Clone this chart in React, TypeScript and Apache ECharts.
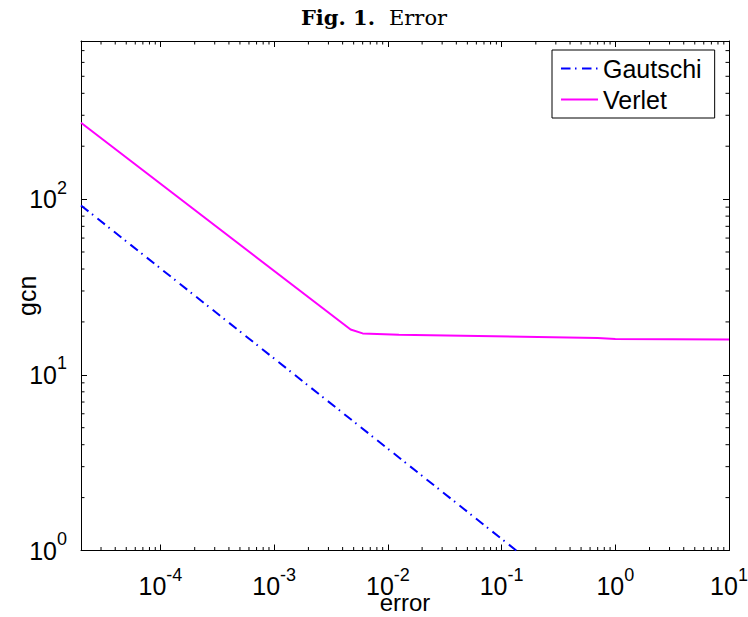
import React, { useEffect, useRef } from 'react';
import * as echarts from 'echarts';

// ---- data ----
const xRange = [2e-5, 10];
const yRange = [1, 794];
const xTickExponents = [-4, -3, -2, -1, 0, 1];
const yTickExponents = [0, 1, 2];
const seriesNames = ['Gautschi', 'Verlet'];
const gautschiError = [2e-5, 0.1346];
const gautschiGcn = [92, 1];
const verletError = [2e-5, 4.7e-3, 6.0e-3, 1.25e-2, 0.7, 1, 10];
const verletGcn = [272, 18.1, 17.2, 16.9, 16.2, 16.0, 15.9];
const titleBold = 'Fig. 1.';
const titleRegular = 'Error';
const xName = 'error';
const yName = 'gcn';

const SANS = '"Liberation Sans", Arial, Helvetica, sans-serif';
const SERIF = '"DejaVu Serif", "Liberation Serif", serif';

const expOf = (v: number): number | null => {
  const l = Math.log10(v);
  const e = Math.round(l);
  return Math.abs(l - e) < 1e-6 ? e : null;
};

const tickFormatter = (allowed: number[]) => (v: number) => {
  const e = expOf(v);
  if (e === null || allowed.indexOf(e) < 0) return '';
  return `{b|10}{e|${e < 0 ? '-' + Math.abs(e) : e}}`;
};

const richX = {
  b: { fontSize: 25, fontFamily: SANS, color: '#000', padding: [8, 0, 0, 0] },
  e: { fontSize: 18, fontFamily: SANS, color: '#000', verticalAlign: 'top' },
};
const richY = {
  b: { fontSize: 25, fontFamily: SANS, color: '#000', padding: [8, 0, 8, 0] },
  e: { fontSize: 18, fontFamily: SANS, color: '#000', verticalAlign: 'top' },
};

const axisLineStyle = { show: true, onZero: false, lineStyle: { color: '#000', width: 1 } };
const majorTick = { show: true, inside: true, length: 6, lineStyle: { color: '#000', width: 1 } };

export default function App() {
  const ref = useRef<HTMLDivElement>(null);
  useEffect(() => {
    if (!ref.current) return;
    const chart = echarts.init(ref.current, null, { renderer: 'svg' });
    const gautschi = gautschiError.map((x, i) => [x, gautschiGcn[i]]);
    const verlet = verletError.map((x, i) => [x, verletGcn[i]]);
    const option: any = {
      animation: false,
      backgroundColor: '#fff',
      title: {
        text: `{b|${titleBold}}{r|${titleRegular}}`,
        left: 'center',
        top: 7,
        padding: 0,
        textStyle: {
          rich: {
            b: { fontSize: 21, fontWeight: 'bold', fontFamily: SERIF, color: '#000', padding: [0, 14, 0, 0] },
            r: { fontSize: 21, fontWeight: 'normal', fontFamily: SERIF, color: '#000' },
          },
        },
      },
      grid: { left: 81, right: 19, top: 41, bottom: 66.5, containLabel: false, outerBoundsMode: 'none' },
      legend: {
        orient: 'vertical',
        left: 552,
        top: 50,
        padding: [6, 13, 6, 8],
        itemWidth: 37,
        itemHeight: 25,
        itemGap: 6,
        backgroundColor: '#fff',
        borderColor: '#000',
        borderWidth: 1,
        borderRadius: 0,
        itemStyle: { opacity: 0 },
        textStyle: { fontSize: 25, fontFamily: SANS, color: '#000', lineHeight: 25 },
        data: seriesNames,
      },
      xAxis: [
        {
          type: 'log', logBase: 10, min: xRange[0], max: xRange[1], position: 'bottom',
          name: xName, nameLocation: 'middle', nameGap: 42, nameMoveOverlap: false,
          nameTextStyle: { fontSize: 24, lineHeight: 20, fontFamily: SANS, color: '#000' },
          axisLine: axisLineStyle, axisTick: majorTick, splitLine: { show: false },
          axisLabel: { margin: 15, formatter: tickFormatter(xTickExponents), rich: richX },
        },
        {
          type: 'log', logBase: 10, min: xRange[0], max: xRange[1], position: 'top',
          axisLine: axisLineStyle, axisTick: majorTick, splitLine: { show: false }, axisLabel: { show: false },
        },
      ],
      yAxis: [
        {
          type: 'log', logBase: 10, min: yRange[0], max: yRange[1], position: 'left',
          name: yName, nameLocation: 'middle', nameGap: 42, nameMoveOverlap: false,
          nameTextStyle: { fontSize: 25, fontFamily: SANS, color: '#000' },
          axisLine: axisLineStyle, axisTick: majorTick, splitLine: { show: false },
          axisLabel: { margin: 14, formatter: tickFormatter(yTickExponents), rich: richY },
        },
        {
          type: 'log', logBase: 10, min: yRange[0], max: yRange[1], position: 'right',
          axisLine: axisLineStyle, axisTick: majorTick, splitLine: { show: false }, axisLabel: { show: false },
        },
      ],
      series: [
        {
          name: seriesNames[0], type: 'line', data: gautschi, symbol: 'none', showSymbol: false,
          xAxisIndex: 0, yAxisIndex: 0, clip: true,
          lineStyle: { color: '#0000ff', width: 2, type: [9.5, 4.5, 1.5, 5.5] },
          itemStyle: { color: '#0000ff' },
        },
        {
          name: seriesNames[1], type: 'line', data: verlet, symbol: 'none', showSymbol: false,
          xAxisIndex: 0, yAxisIndex: 0, clip: true,
          lineStyle: { color: '#ff00ff', width: 2, type: 'solid' },
          itemStyle: { color: '#ff00ff' },
        },
      ],
    };
    chart.setOption(option);

    // minor ticks (2..9 per decade) on all four sides, placed through the axes' own scales
    const px = (v: number) => chart.convertToPixel({ xAxisIndex: 0 }, v) as number;
    const py = (v: number) => chart.convertToPixel({ yAxisIndex: 0 }, v) as number;
    const xl = px(xRange[0]), xr = px(xRange[1]);
    const yb = py(yRange[0]), yt = py(yRange[1]);
    const minorVals = (lo: number, hi: number) => {
      const out: number[] = [];
      for (let d = Math.floor(Math.log10(lo)); d <= Math.ceil(Math.log10(hi)); d++) {
        for (let m = 2; m <= 9; m++) {
          const v = m * Math.pow(10, d);
          if (v > lo && v < hi) out.push(v);
        }
      }
      return out;
    };
    const L = 3.5;
    const els: any[] = [];
    const mk = (x1: number, y1: number, x2: number, y2: number) =>
      els.push({ type: 'line', silent: true, shape: { x1, y1, x2, y2 }, style: { stroke: '#000', lineWidth: 1 } });
    minorVals(xRange[0], xRange[1]).forEach((v) => {
      const x = px(v);
      mk(x, yb, x, yb - L);
      mk(x, yt, x, yt + L);
    });
    minorVals(yRange[0], yRange[1]).forEach((v) => {
      const y = py(v);
      mk(xl, y, xl + L, y);
      mk(xr, y, xr - L, y);
    });
    chart.setOption({ graphic: els });

    return () => chart.dispose();
  }, []);
  return <div ref={ref} style={{ position: 'fixed', left: 0, top: 0, width: 748, height: 617 }} />;
}
